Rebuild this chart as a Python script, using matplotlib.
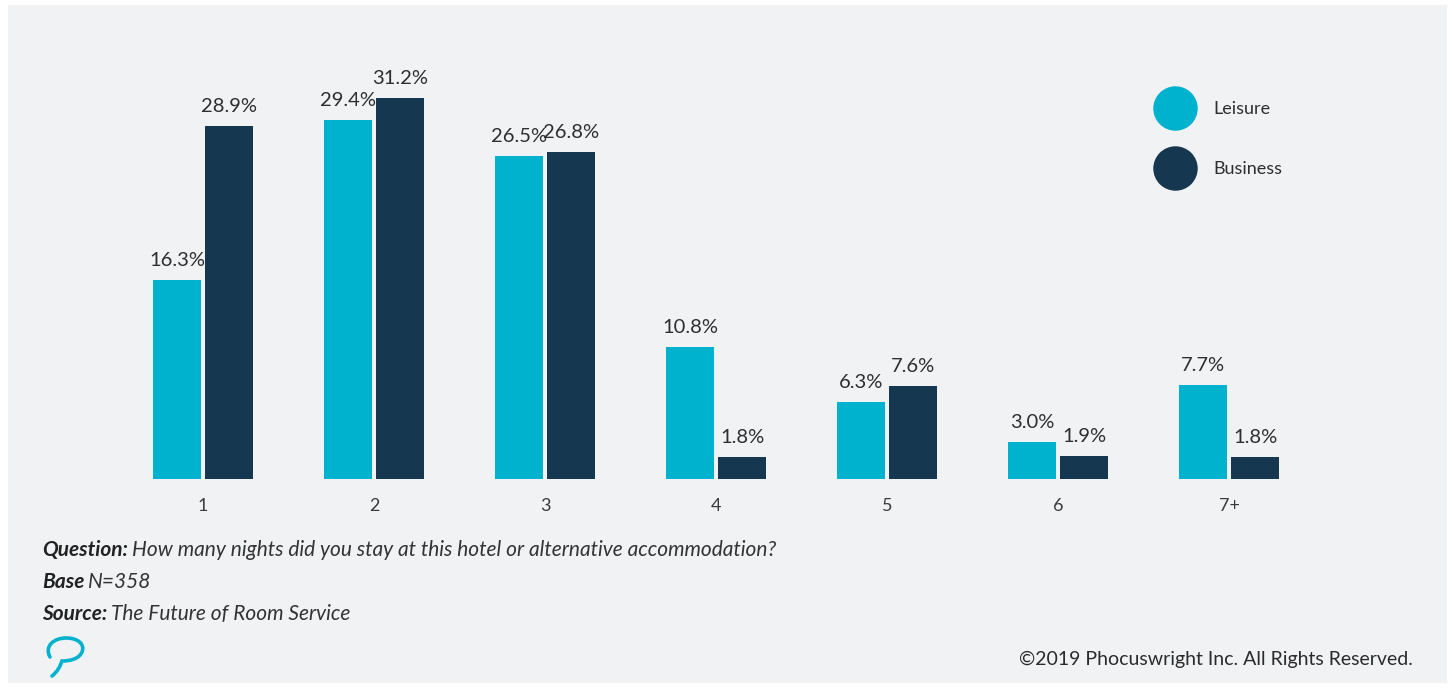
import matplotlib
matplotlib.use("Agg")
import matplotlib.pyplot as plt
from matplotlib.patches import Rectangle, PathPatch
from matplotlib.path import Path
from matplotlib.lines import Line2D
import numpy as np

# ---- data ----
nights = ["1", "2", "3", "4", "5", "6", "7+"]
leisure = [16.3, 29.4, 26.5, 10.8, 6.3, 3.0, 7.7]
business = [28.9, 31.2, 26.8, 1.8, 7.6, 1.9, 1.8]
series_names = ["Leisure", "Business"]

# ---- styling ----
W, H = 1453, 688
BG = "#f1f2f4"
C_LEISURE = "#00b2ce"
C_BUSINESS = "#163750"
TXT = "#2e2e2e"
plt.rcParams["font.family"] = ["Lato", "DejaVu Sans"]

fig = plt.figure(figsize=(W / 100, H / 100), dpi=100)
fig.patch.set_facecolor("white")


def fx(px):
    return px / W


def fy(py):
    return 1 - py / H


# grey panel with a thin white margin
fig.patches.append(Rectangle((fx(8), fy(683)), fx(1447 - 8), (683 - 5) / H,
                             transform=fig.transFigure, facecolor=BG,
                             edgecolor="none", zorder=-10))

# plotting area
ax_left, ax_right, ax_top, ax_bottom = 100, 1300, 60, 479
ax = fig.add_axes([fx(ax_left), fy(ax_bottom), (ax_right - ax_left) / W,
                   (ax_bottom - ax_top) / H])
ax.set_facecolor("none")
ax.set_zorder(1)

px_per_unit = 171.0
px_per_pct = 12.2
x0 = -103 / px_per_unit
ax.set_xlim(x0, x0 + (ax_right - ax_left) / px_per_unit)
ax.set_ylim(0, (ax_bottom - ax_top) / px_per_pct)

x = np.arange(len(nights))
bw = 48 / px_per_unit
off = 26 / px_per_unit

b1 = ax.bar(x - off, leisure, width=bw, color=C_LEISURE, label=series_names[0])
b2 = ax.bar(x + off, business, width=bw, color=C_BUSINESS, label=series_names[1])

for bars, vals in ((b1, leisure), (b2, business)):
    for r, v in zip(bars, vals):
        ax.annotate(f"{v:.1f}%", (r.get_x() + r.get_width() / 2, v),
                    xytext=(0, 8), textcoords="offset points",
                    ha="center", va="bottom", fontsize=14.5, color=TXT)

ax.set_xticks(x)
ax.set_xticklabels(nights, fontsize=13, color="#3a3a3a")
ax.tick_params(axis="x", length=0, pad=14)
ax.set_yticks([])
for s in ax.spines.values():
    s.set_visible(False)

# legend
handles = [Line2D([], [], marker="o", linestyle="none", markersize=32,
                  markerfacecolor=c, markeredgecolor="none")
           for c in (C_LEISURE, C_BUSINESS)]
leg = fig.legend(handles, series_names, loc="upper left",
                 bbox_to_anchor=(fx(1150), fy(94)), frameon=False,
                 fontsize=13, labelspacing=2.42, handletextpad=1.1,
                 labelcolor=TXT, borderaxespad=0)

# footnotes
notes = [("Question:", "How many nights did you stay at this hotel or alternative accommodation?", 550),
         ("Base", "N=358", 582),
         ("Source:", "The Future of Room Service", 614)]
renderer = fig.canvas.get_renderer()
for head, body, ypx in notes:
    t = fig.text(fx(42), fy(ypx), head, fontsize=15, fontweight="bold",
                 fontstyle="italic", color="#222222", va="center", ha="left")
    bb = t.get_window_extent(renderer=renderer)
    fig.text(fx(bb.x1 + 4), fy(ypx), body, fontsize=15, fontstyle="italic",
             color="#333333", va="center", ha="left")

fig.text(fx(1413), fy(659), "\u00a92019 Phocuswright Inc. All Rights Reserved.",
         fontsize=14, color="#2b2b2b", ha="right", va="center")


# speech-bubble logo
def P(px, py):
    return (fx(px), fy(py))


verts = [P(50, 657),
         P(44, 646), P(54, 638), P(66, 638),
         P(79, 638), P(85, 645), P(82, 652),
         P(79, 659), P(70, 661), P(62, 661),
         P(60, 667), P(57, 672), P(52, 676)]
codes = [Path.MOVETO] + [Path.CURVE4] * 12
logo = PathPatch(Path(verts, codes), transform=fig.transFigure,
                 facecolor="none", edgecolor=C_LEISURE, linewidth=2.6,
                 capstyle="round")
fig.patches.append(logo)

fig.savefig("out.png", dpi=100, facecolor=fig.get_facecolor())
